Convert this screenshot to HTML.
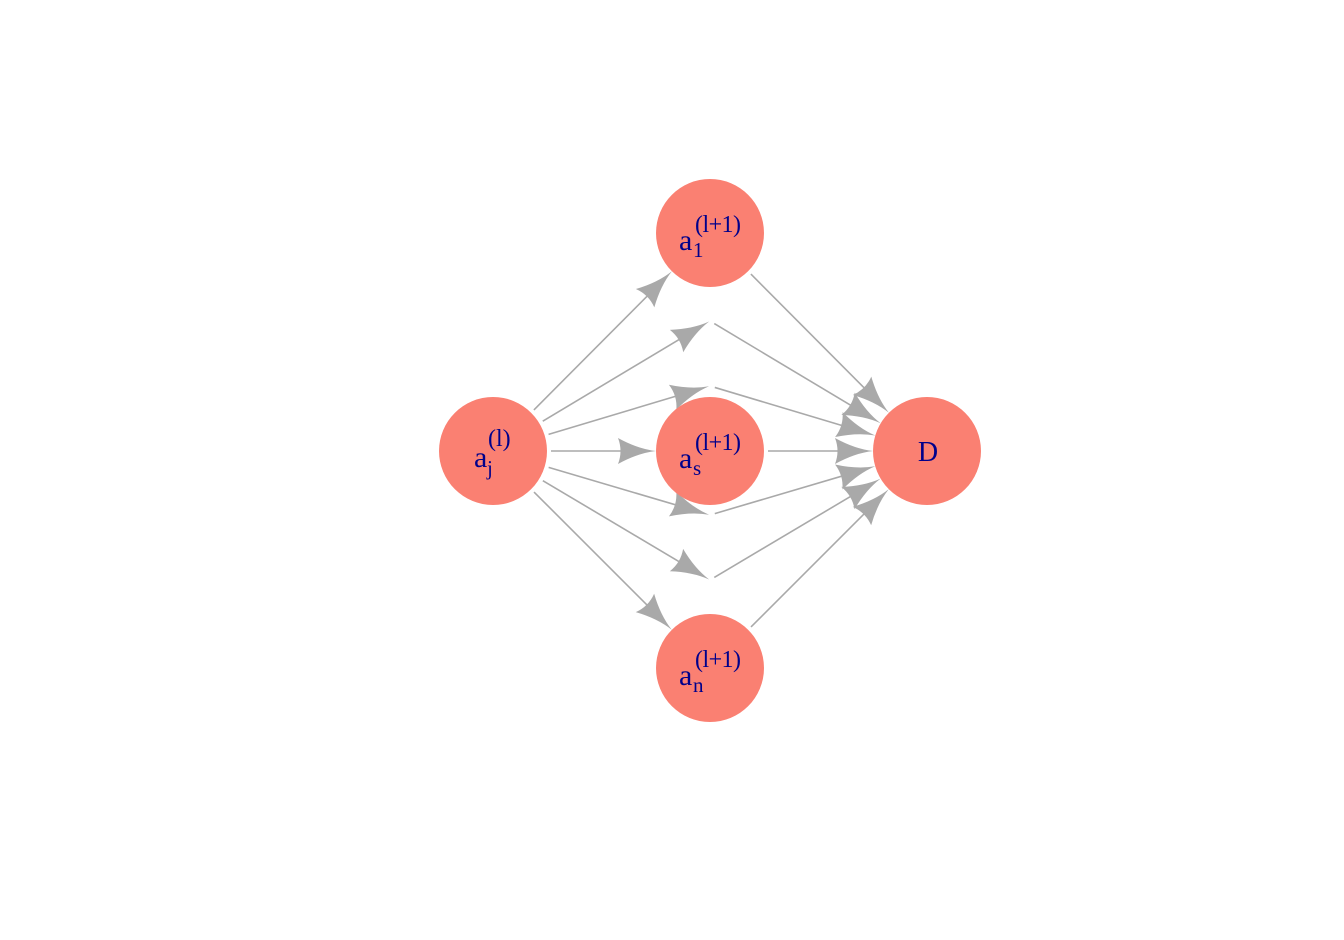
<!DOCTYPE html>
<html><head><meta charset="utf-8"><style>
html,body{margin:0;padding:0;background:#fff;}
svg{display:block;}
text{font-family:"Liberation Serif",serif;fill:#00008B;}
</style></head><body>
<svg id="s" width="1344" height="940" viewBox="0 0 1344 940" xmlns="http://www.w3.org/2000/svg">
<g id="edges"></g>
<circle cx="493" cy="451" r="54" fill="#FA8072"/>
<circle cx="710" cy="233" r="54" fill="#FA8072"/>
<circle cx="710" cy="451" r="54" fill="#FA8072"/>
<circle cx="710" cy="668" r="54" fill="#FA8072"/>
<circle cx="927" cy="451" r="54" fill="#FA8072"/>
<text x="474" y="467" font-size="30">a</text><text x="487" y="475" font-size="21">j</text><text x="488" y="446" font-size="24">(l)</text>
<text x="679" y="250" font-size="30">a</text><text x="693" y="257" font-size="21">1</text><text x="695" y="232" font-size="24" textLength="46">(l+1)</text>
<text x="679" y="468" font-size="30">a</text><text x="693" y="475" font-size="21">s</text><text x="695" y="450" font-size="24" textLength="46">(l+1)</text>
<text x="679" y="685" font-size="30">a</text><text x="693" y="692" font-size="21">n</text><text x="695" y="667" font-size="24" textLength="46">(l+1)</text>
<text x="928" y="461" font-size="28" text-anchor="middle">D</text>
</svg>
<script>
var g=document.getElementById('edges'),NS='http://www.w3.org/2000/svg';
var A=[493,451],D=[927,451];
var mids=[[710,233,54],[710,321,1],[710,386,1],[710,451,54],[710,515,1],[710,580,1],[710,668,54]];
function edge(s,rs,t,rt){
 var dx=t[0]-s[0],dy=t[1]-s[1],L=Math.hypot(dx,dy),ux=dx/L,uy=dy/L;
 var x1=s[0]+ux*rs,y1=s[1]+uy*rs,x2=t[0]-ux*rt,y2=t[1]-uy*rt;
 var ln=document.createElementNS(NS,'line');
 ln.setAttribute('x1',x1);ln.setAttribute('y1',y1);ln.setAttribute('x2',x2-ux*20);ln.setAttribute('y2',y2-uy*20);
 ln.setAttribute('stroke','#A9A9A9');ln.setAttribute('stroke-width','1.6');g.appendChild(ln);
 var p=document.createElementNS(NS,'path');
 p.setAttribute('d','M0 0 Q-18 -2 -38 -13 Q-33 0 -38 13 Q-18 2 0 0Z');
 p.setAttribute('fill','#A9A9A9');
 p.setAttribute('transform','translate('+x2+','+y2+') rotate('+(Math.atan2(dy,dx)*180/Math.PI)+')');
 g.appendChild(p);
}
mids.forEach(function(m){
 edge(A,58,[m[0],m[1]],m[2]);
 edge([m[0],m[1]],m[2]==54?58:5,D,54);
});
</script>
</body></html>
